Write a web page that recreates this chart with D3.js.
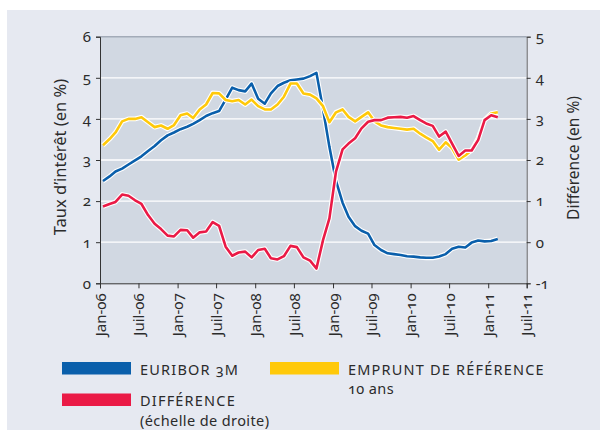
<!DOCTYPE html>
<html><head><meta charset="utf-8">
<script src="https://cdn.jsdelivr.net/npm/d3@7/dist/d3.min.js"></script>
<style>
html,body{margin:0;padding:0;background:#fff;}
svg text{font-family:"Noto Sans","Open Sans",sans-serif;fill:#2b2b2b;font-variant-numeric:oldstyle-nums;}
</style></head>
<body><svg id="c" width="600" height="430"></svg>
<script>
// Monthly data, Jan-2006 .. Feb-2011 (plotted mid-month)
const startYear = 2006, startMonth = 0;
const euribor3m = [2.49,2.60,2.72,2.79,2.89,2.99,3.09,3.22,3.34,3.48,3.60,3.67,3.75,3.81,3.88,3.97,4.07,4.14,4.19,4.47,4.76,4.70,4.67,4.86,4.49,4.37,4.62,4.80,4.88,4.94,4.96,4.98,5.04,5.12,4.24,3.32,2.49,1.96,1.62,1.39,1.28,1.21,0.93,0.81,0.73,0.71,0.69,0.66,0.65,0.63,0.62,0.62,0.65,0.71,0.84,0.89,0.87,0.99,1.04,1.02,1.03,1.08];
const emprunt10ans = [3.36,3.51,3.67,3.94,4.00,4.00,4.04,3.92,3.80,3.84,3.76,3.85,4.09,4.13,4.02,4.23,4.35,4.63,4.62,4.46,4.43,4.46,4.35,4.47,4.31,4.23,4.23,4.35,4.54,4.86,4.86,4.62,4.59,4.50,4.31,3.92,4.16,4.23,4.05,3.94,4.05,4.16,3.94,3.84,3.80,3.78,3.76,3.74,3.76,3.64,3.55,3.46,3.25,3.43,3.29,3.01,3.11,3.24,3.54,3.98,4.13,4.16];
const difference = [0.87,0.93,0.98,1.16,1.13,1.02,0.93,0.66,0.45,0.32,0.16,0.14,0.30,0.29,0.11,0.24,0.26,0.49,0.40,-0.11,-0.33,-0.25,-0.23,-0.37,-0.19,-0.16,-0.39,-0.42,-0.34,-0.09,-0.12,-0.37,-0.45,-0.64,0.05,0.58,1.72,2.26,2.40,2.53,2.77,2.93,2.97,2.97,3.03,3.04,3.05,3.03,3.07,2.97,2.89,2.83,2.57,2.69,2.40,2.10,2.23,2.23,2.49,2.97,3.09,3.04];
const leftTicks = [0,1,2,3,4,5,6];
const rightTicks = [-1,0,1,2,3,4,5];
const xTickLabels = ["Jan-06","Juil-06","Jan-07","Juil-07","Jan-08","Juil-08","Jan-09","Juil-09","Jan-10","Juil-10","Jan-11","Juil-11"];
const legendItems = [
  {lines:["EURIBOR 3M"], color:"#0a5fab", col:0, row:0},
  {lines:["EMPRUNT DE RÉFÉRENCE","10 ans"], color:"#ffc90a", col:1, row:0},
  {lines:["DIFFÉRENCE","(échelle de droite)"], color:"#ea1a46", col:0, row:1}
];

const svg = d3.select("#c");
svg.append("rect").attr("x",7).attr("y",10).attr("width",593).attr("height",420).attr("fill","#e6e9f1");

const L=100, R=526.7, T=36.7, B=283.3;
const dates = euribor3m.map((_,i)=>new Date(startYear, startMonth+i, 15));
const tickDates = xTickLabels.map((_,i)=>new Date(startYear, startMonth+6*i, 1));
const x = d3.scaleTime().domain([tickDates[0], tickDates[tickDates.length-1]]).range([L,R]);
const yL = d3.scaleLinear().domain([0,6]).range([B,T]);
const yR = d3.scaleLinear().domain([-1,5]).range([B,T]);

svg.append("rect").attr("x",L).attr("y",T).attr("width",R-L).attr("height",B-T).attr("fill","#d1d8e2");
// gridlines
svg.append("g").selectAll("line").data(leftTicks.filter(v=>v>0&&v<6)).join("line")
  .attr("x1",L).attr("x2",R).attr("y1",d=>yL(d)).attr("y2",d=>yL(d))
  .attr("stroke","#fff").attr("stroke-width",1.3);
svg.append("line").attr("x1",L).attr("x2",R).attr("y1",yL(6)).attr("y2",yL(6)).attr("stroke","#a3abb8").attr("stroke-width",1.5);

// axes
const fmtNum = d=>String(d);
const gl = svg.append("g").attr("transform",`translate(${L},0)`)
  .call(d3.axisLeft(yL).tickValues(leftTicks).tickSize(4).tickPadding(5).tickFormat(fmtNum));
const gr = svg.append("g").attr("transform",`translate(${R},0)`)
  .call(d3.axisRight(yR).tickValues(rightTicks).tickSize(4).tickPadding(5).tickFormat(fmtNum));
const gb = svg.append("g").attr("transform",`translate(0,${B})`)
  .call(d3.axisBottom(x).tickValues(tickDates).tickSize(5).tickFormat((d,i)=>xTickLabels[i]));
[gl,gr,gb].forEach(g=>{
  g.select(".domain").attr("stroke","#333");
  g.selectAll(".tick line").attr("stroke","#333");
  g.selectAll("text").attr("font-size",15).attr("fill","#2b2b2b");
});
gr.select(".domain").attr("stroke","#666");
gb.selectAll("text").attr("transform","rotate(-90)").attr("text-anchor","end")
  .attr("x",-10).attr("y",0).attr("dy","0.35em");

// axis titles
svg.append("text").attr("transform","translate(66,157) rotate(-90)").attr("text-anchor","middle")
  .attr("font-size",16.5).text("Taux d’intérêt (en %)");
svg.append("text").attr("transform","translate(579,158) rotate(-90)").attr("text-anchor","middle")
  .attr("font-size",15.5).text("Différence (en %)");

// lines
const lineL = d3.line().x((d,i)=>x(dates[i])).y(d=>yL(d));
const lineR = d3.line().x((d,i)=>x(dates[i])).y(d=>yR(d));
const series = [
  {data:euribor3m, gen:lineL, color:"#0a5fab"},
  {data:emprunt10ans, gen:lineL, color:"#ffc90a"},
  {data:difference, gen:lineR, color:"#ea1a46"}
];
series.forEach(s=>{
  svg.append("path").attr("d",s.gen(s.data)).attr("fill","none").attr("stroke","#fff")
    .attr("stroke-width",4.8).attr("stroke-linejoin","round");
  svg.append("path").attr("d",s.gen(s.data)).attr("fill","none").attr("stroke",s.color)
    .attr("stroke-width",2.6).attr("stroke-linejoin","round");
});

// legend
const colX=[62,270], rowY=[362,393.5];
legendItems.forEach(it=>{
  const gx=colX[it.col], gy=rowY[it.row];
  svg.append("rect").attr("x",gx).attr("y",gy).attr("width",69).attr("height",12.5).attr("fill",it.color);
  it.lines.forEach((t,j)=>{
    const caps = (t === t.toUpperCase());
    svg.append("text").attr("x",gx+78).attr("y",gy+12.5+j*19.8).attr("font-size",14.5)
      .attr("letter-spacing", caps ? 1.2 : 0.4).text(t);
  });
});
</script></body></html>
